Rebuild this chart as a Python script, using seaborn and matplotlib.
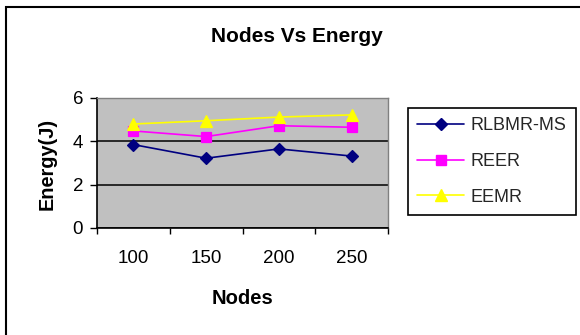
import matplotlib
matplotlib.use("Agg")
import matplotlib.pyplot as plt
from matplotlib.patches import Rectangle
from matplotlib.lines import Line2D
import seaborn as sns
import pandas as pd

nodes = ["100", "150", "200", "250"]
rlbmr_ms = [3.85, 3.22, 3.65, 3.32]
reer = [4.48, 4.22, 4.72, 4.65]
eemr = [4.80, 4.95, 5.12, 5.22]

series_names = ["RLBMR-MS", "REER", "EEMR"]
series_values = [rlbmr_ms, reer, eemr]
colors = {"RLBMR-MS": "#000080", "REER": "#FF00FF", "EEMR": "#FFFF00"}
markers = {"RLBMR-MS": "D", "REER": "s", "EEMR": "^"}
msizes = {"RLBMR-MS": 6.5, "REER": 7, "EEMR": 8.5}

df = pd.DataFrame(
    [(n, v, s) for s, vals in zip(series_names, series_values) for n, v in zip(nodes, vals)],
    columns=["Nodes", "Energy", "Series"],
)

sns.set_theme(style="white")
plt.rcParams["font.family"] = ["Liberation Sans", "DejaVu Sans"]

fig = plt.figure(figsize=(5.8, 3.35), dpi=100)
ax = fig.add_axes([97 / 580, 1 - 228 / 335, (388 - 97) / 580, (228 - 98) / 335])
ax.set_facecolor("#C0C0C0")

for s in series_names:
    sub = df[df["Series"] == s]
    sns.pointplot(
        data=sub, x="Nodes", y="Energy", order=nodes, color=colors[s],
        marker=markers[s], markersize=msizes[s], linewidth=1.2, ax=ax,
        markeredgecolor=colors[s], zorder=3,
    )

ax.set_xlim(-0.5, len(nodes) - 0.5)
ax.set_ylim(0, 6)
ax.set_yticks([0, 2, 4, 6])
ax.yaxis.grid(True, color="black", linewidth=1.1)
ax.set_axisbelow(True)

# tick marks sit between categories, labels at category centers
ax.set_xticks(range(len(nodes)))
ax.set_xticklabels(nodes)
ax.set_xticks([i - 0.5 for i in range(len(nodes) + 1)], minor=True)
ax.tick_params(axis="x", which="major", length=0, pad=16, labelsize=13.5, colors="black")
ax.tick_params(axis="x", which="minor", length=4.5, width=1, direction="out", color="black", bottom=True)
ax.tick_params(axis="y", length=5, width=1, direction="out", color="black", left=True,
               labelsize=13.5, pad=5, colors="black")

for side in ("left", "bottom"):
    ax.spines[side].set_color("black")
    ax.spines[side].set_linewidth(1.2)
for side in ("top", "right"):
    ax.spines[side].set_color("#808080")
    ax.spines[side].set_linewidth(1.0)

ax.set_xlabel("Nodes", fontsize=14.5, fontweight="bold", color="black")
ax.xaxis.set_label_coords(0.5, -(289 - 228) / 130)
ax.set_ylabel("Energy(J)", fontsize=14.3, fontweight="bold", color="black")
ax.yaxis.set_label_coords(-(97 - 57) / 291, 0.49)
fig.text(296.5 / 580, 1 - 42 / 335, "Nodes Vs Energy", ha="center", va="baseline",
         fontsize=15, fontweight="bold", color="black")

handles = [
    Line2D([], [], color=colors[s], marker=markers[s], markersize=msizes[s],
           markeredgecolor=colors[s], linewidth=1.2)
    for s in series_names
]
leg = fig.legend(
    handles, series_names, loc="upper left",
    bbox_to_anchor=(408 / 580, 1 - 108 / 335), bbox_transform=fig.transFigure,
    frameon=True, fancybox=False, framealpha=1, edgecolor="black",
    fontsize=13, handlelength=2.6, labelspacing=1.03, borderpad=0.52,
    handletextpad=0.35, borderaxespad=0,
)
leg.get_frame().set_linewidth(1.2)

fig.patches.append(Rectangle((5.5 / 580, -0.1), 1.0, 1.1 - 7.5 / 335, transform=fig.transFigure,
                             fill=False, edgecolor="black", linewidth=1.5, figure=fig))

fig.savefig("out.png", dpi=100, facecolor="white")
